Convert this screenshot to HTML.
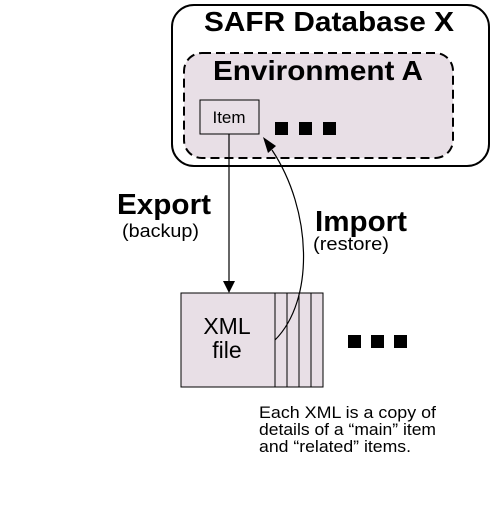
<html><head><style>body{margin:0;background:#fff}</style></head><body>
<svg width="491" height="530" xmlns="http://www.w3.org/2000/svg" font-family="Liberation Sans, Arial, sans-serif">
<rect x="172" y="5" width="317" height="161" rx="22" fill="#fff" stroke="#000" stroke-width="2"/>
<text x="204" y="31" font-size="28" font-weight="bold" textLength="250" lengthAdjust="spacingAndGlyphs">SAFR Database X</text>
<rect x="184" y="53" width="269" height="105" rx="18" fill="#e8dfe6" stroke="#000" stroke-width="2" stroke-dasharray="9,5"/>
<text x="213" y="80" font-size="28" font-weight="bold" textLength="210" lengthAdjust="spacingAndGlyphs">Environment A</text>
<rect x="200" y="100" width="59" height="34" fill="#e8dfe6" stroke="#000" stroke-width="1"/>
<text x="229" y="123" font-size="17" text-anchor="middle">Item</text>
<rect x="275" y="122" width="13" height="13"/><rect x="299" y="122" width="13" height="13"/><rect x="323" y="122" width="13" height="13"/>
<line x1="229" y1="134" x2="229" y2="282" stroke="#000" stroke-width="1.2"/>
<polygon points="223,281 235,281 229,293"/>
<text x="117" y="214" font-size="29" font-weight="bold" textLength="94" lengthAdjust="spacingAndGlyphs">Export</text>
<text x="122" y="237" font-size="18" textLength="77" lengthAdjust="spacingAndGlyphs">(backup)</text>
<text x="315" y="231" font-size="29" font-weight="bold" textLength="92" lengthAdjust="spacingAndGlyphs">Import</text>
<text x="313" y="250" font-size="18" textLength="76" lengthAdjust="spacingAndGlyphs">(restore)</text>
<rect x="181" y="293" width="142" height="94" fill="#e8dfe6" stroke="#000" stroke-width="1"/>
<line x1="275" y1="293" x2="275" y2="387" stroke="#000"/>
<line x1="287" y1="293" x2="287" y2="387" stroke="#000"/>
<line x1="299" y1="293" x2="299" y2="387" stroke="#000"/>
<line x1="311" y1="293" x2="311" y2="387" stroke="#000"/>
<path d="M275,340 C315,300 312,210 272,150" fill="none" stroke="#000" stroke-width="1.2"/>
<polygon points="263,137 276,146 268,153"/>
<text x="227" y="334" font-size="23" text-anchor="middle">XML</text>
<text x="227" y="358" font-size="23" text-anchor="middle">file</text>
<rect x="348" y="335" width="13" height="13"/><rect x="371" y="335" width="13" height="13"/><rect x="394" y="335" width="13" height="13"/>
<text x="259" y="418" font-size="17" textLength="177" lengthAdjust="spacingAndGlyphs">Each XML is a copy of</text>
<text x="259" y="435" font-size="17" textLength="177" lengthAdjust="spacingAndGlyphs">details of a “main” item</text>
<text x="259" y="452" font-size="17" textLength="152" lengthAdjust="spacingAndGlyphs">and “related” items.</text>
</svg>
</body></html>
